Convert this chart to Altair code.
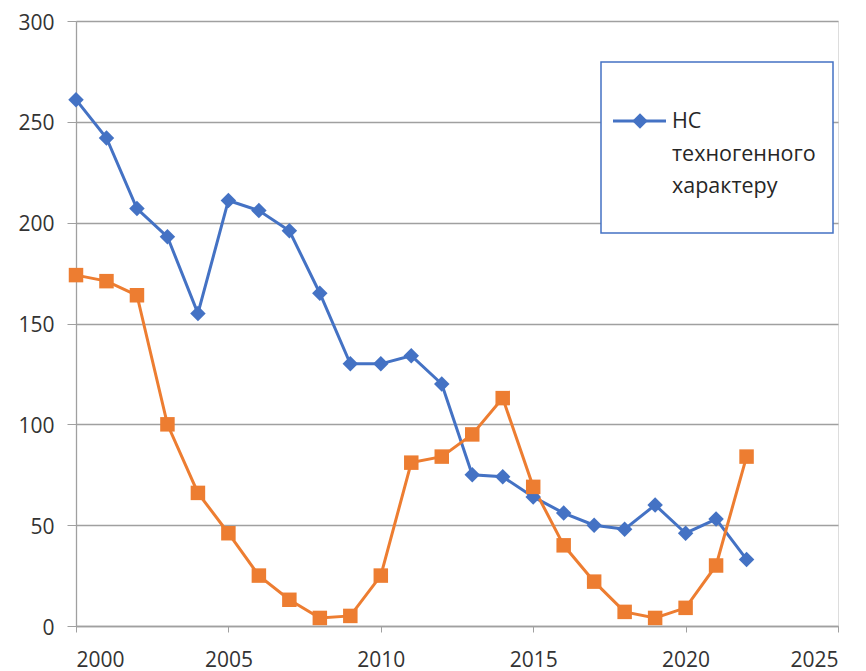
import altair as alt
import pandas as pd

years = list(range(2000, 2023))
tech = [261, 242, 207, 193, 155, 211, 206, 196, 165, 130, 130, 134, 120, 75, 74, 64, 56, 50, 48, 60, 46, 53, 33]
other = [174, 171, 164, 100, 66, 46, 25, 13, 4, 5, 25, 81, 84, 95, 113, 69, 40, 22, 7, 4, 9, 30, 84]
legend_label = "НС\nтехногенного\nхарактеру"

BLUE = "#4472C4"
ORANGE = "#ED7D31"
GRID = "#A0A0A0"
FONT = "Open Sans"
FS = 21

df_t = pd.DataFrame({"year": years, "value": tech})
df_o = pd.DataFrame({"year": years, "value": other})

W, H = 762, 605

xenc = alt.X("year:Q", scale=alt.Scale(domain=[2000, 2025], nice=False, zero=False),
             axis=alt.Axis(values=[2000, 2005, 2010, 2015, 2020, 2025], format="d", title=None,
                           grid=False, domainColor=GRID, domainWidth=1.3, tickColor=GRID, tickSize=6,
                           labelPadding=17, labelFontSize=FS, labelColor="#333333", labelFont=FONT))
yenc = alt.Y("value:Q", scale=alt.Scale(domain=[0, 300], nice=False),
             axis=alt.Axis(values=[0, 50, 100, 150, 200, 250, 300], title=None,
                           grid=True, gridColor=GRID, gridWidth=1.3,
                           domainColor=GRID, domainWidth=1.3, tickColor=GRID, tickSize=9,
                           labelPadding=13, labelOffset=2, labelFontSize=FS, labelColor="#333333", labelFont=FONT))

blue_line = alt.Chart(df_t).mark_line(color=BLUE, strokeWidth=3).encode(x=xenc, y=yenc)
blue_pts = alt.Chart(df_t).mark_point(shape="diamond", filled=True, color=BLUE, size=240, opacity=1).encode(x="year:Q", y="value:Q")
or_line = alt.Chart(df_o).mark_line(color=ORANGE, strokeWidth=3).encode(x="year:Q", y="value:Q")
or_pts = alt.Chart(df_o).mark_point(shape="square", filled=True, color=ORANGE, size=210, opacity=1).encode(x="year:Q", y="value:Q")

# legend box (decoration)
lg_box = alt.Chart(pd.DataFrame({"a": [0]})).mark_rect(fill="white", stroke=BLUE, strokeWidth=1.5).encode(
    x=alt.value(525), x2=alt.value(757), y=alt.value(41), y2=alt.value(212))
lg_rule = alt.Chart(pd.DataFrame({"a": [0]})).mark_rule(color=BLUE, strokeWidth=3).encode(
    x=alt.value(537), x2=alt.value(590), y=alt.value(100))
lg_pt = alt.Chart(pd.DataFrame({"a": [0]})).mark_point(shape="diamond", filled=True, color=BLUE, size=240, opacity=1).encode(
    x=alt.value(564), y=alt.value(100))
lg_txt = alt.Chart(pd.DataFrame({"t": [legend_label]})).mark_text(
    align="left", baseline="alphabetic", fontSize=21.5, font=FONT, color="#262626",
    lineBreak="\n", lineHeight=32.5).encode(x=alt.value(596), y=alt.value(107), text="t:N")

chart = alt.layer(blue_line, or_line, blue_pts, or_pts, lg_box, lg_rule, lg_pt, lg_txt).properties(
    width=W, height=H,
    autosize=alt.AutoSizeParams(type="none"),
    padding={"left": 68, "top": 13, "right": 20, "bottom": 45},
).configure_view(stroke=None).configure(background="white")

chart.save("out.html", embed_options={"renderer": "svg", "actions": False})
